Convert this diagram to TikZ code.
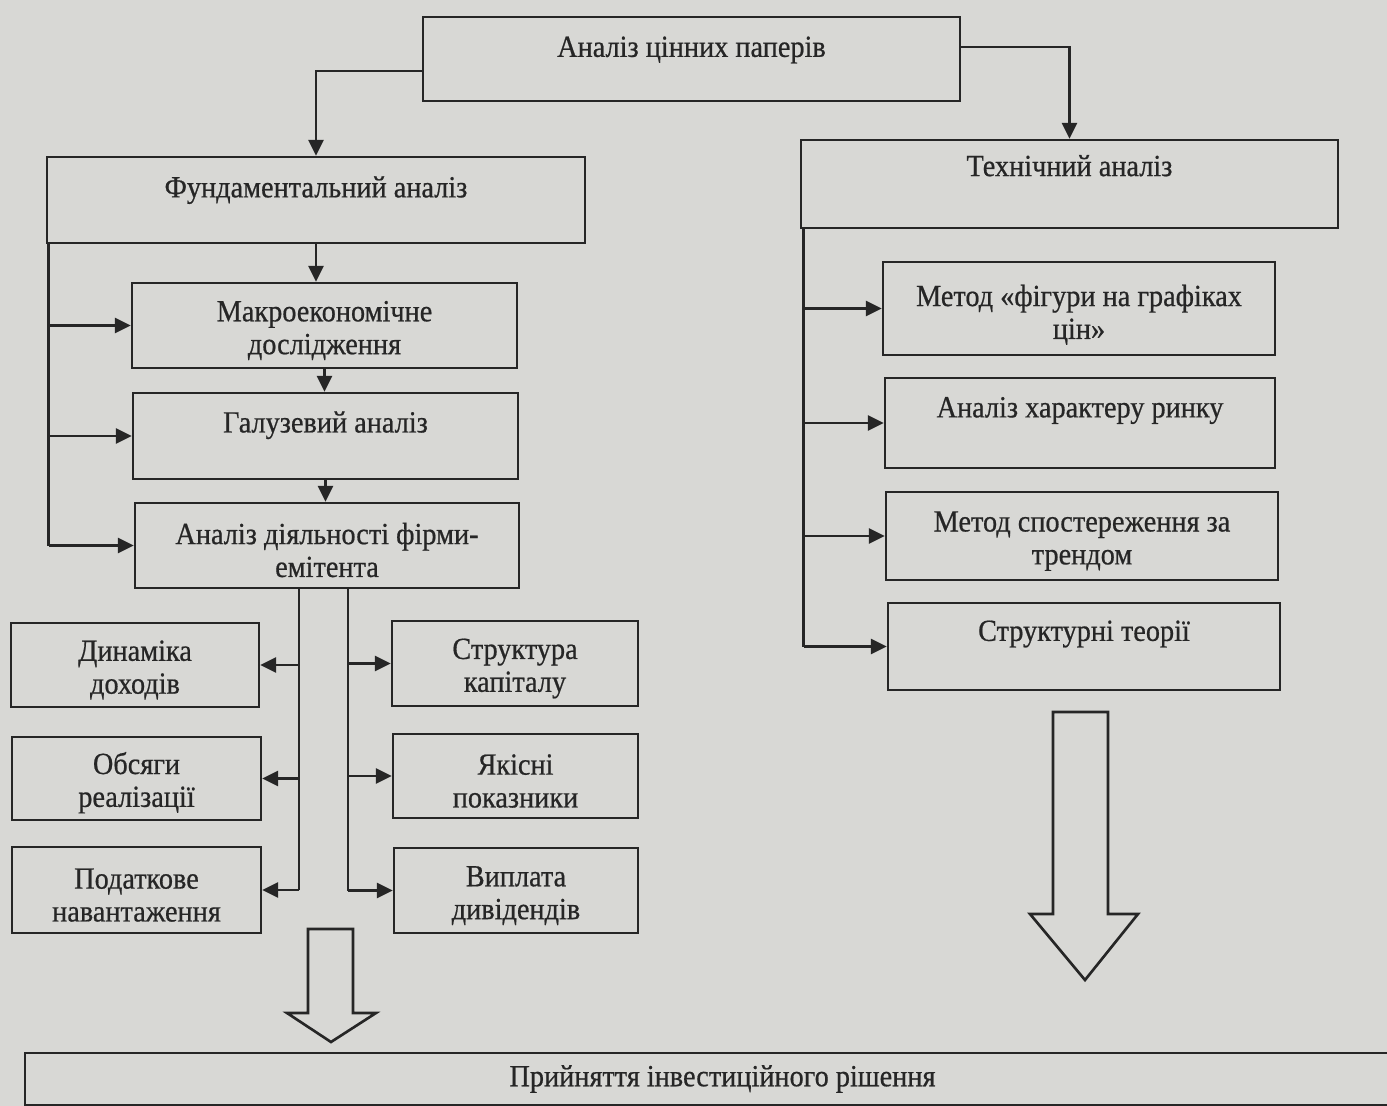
\documentclass[tikz,border=0pt]{standalone}
\usepackage{fontspec}
\setmainfont{Liberation Serif}[FakeStretch=0.92,FakeBold=0.6]
\usetikzlibrary{arrows.meta}
\usetikzlibrary{calc}

\definecolor{papir}{RGB}{216,216,213}
\definecolor{chornylo}{RGB}{38,38,38}

\begin{document}
\begin{tikzpicture}[x=0.02cm,y=-0.02cm,
	blok/.style={draw=chornylo, line width=1.5pt, align=center, inner sep=2pt, text=chornylo, font=\fontsize{17.5}{18.7}\selectfont},
	vgoru/.style={text depth=#1},
	vnyz/.style={text height=#1},
	strilka/.style={draw=chornylo, line width=1.5pt, -{Triangle[length=9pt,width=8.5pt]}},
	liniya/.style={draw=chornylo, line width=1.5pt},
	porozhnya/.style={draw=chornylo, line width=1.5pt, line join=miter}]

	\useasboundingbox[fill=papir] (0,0) rectangle (1387,1106);

	\node[blok, vgoru=14pt, minimum width=10.74cm, minimum height=1.68cm] (papery) at (691.5,59) {Аналіз цінних паперів};
	\node[blok, vgoru=15pt, minimum width=10.76cm, minimum height=1.72cm] (fund) at (316,200) {Фундаментальний аналіз};
	\node[blok, vgoru=21pt, minimum width=10.74cm, minimum height=1.76cm] (tekhn) at (1069.5,184) {Технічний аналіз};

	% fundamentalnyi
	\node[blok, vnyz=36pt, minimum width=7.7cm, minimum height=1.7cm] (makro) at (324.5,325.5) {Макроекономічне\\дослідження};
	\node[blok, vgoru=16pt, minimum width=7.7cm, minimum height=1.72cm] (galuz) at (325.5,436) {Галузевий аналіз};
	\node[blok, vnyz=36pt, minimum width=7.68cm, minimum height=1.7cm] (firma) at (327,545.5) {Аналіз діяльності фірми-\\емітента};

	\node[blok, vnyz=36pt, minimum width=4.96cm, minimum height=1.68cm] (dokhody) at (135,665) {Динаміка\\доходів};
	\node[blok, vnyz=36pt, minimum width=4.98cm, minimum height=1.66cm] (obsyagy) at (136.5,778.5) {Обсяги\\реалізації};
	\node[blok, vnyz=36pt, minimum width=4.98cm, minimum height=1.72cm] (podatok) at (136.5,890) {Податкове\\навантаження};

	\node[blok, vnyz=36pt, minimum width=4.92cm, minimum height=1.7cm] (kapital) at (515,663.5) {Структура\\капіталу};
	\node[blok, vnyz=36pt, minimum width=4.9cm, minimum height=1.68cm] (yakist) at (515.5,776) {Якісні\\показники};
	\node[blok, vnyz=36pt, minimum width=4.88cm, minimum height=1.7cm] (dyvidendy) at (516,890.5) {Виплата\\дивідендів};

	% tekhnichnyi
	\node[blok, vnyz=38pt, minimum width=7.84cm, minimum height=1.86cm] (figury) at (1079,308.5) {Метод «фігури на графіках\\цін»};
	\node[blok, vgoru=18pt, minimum width=7.8cm, minimum height=1.8cm] (kharakter) at (1080,423) {Аналіз характеру ринку};
	\node[blok, vnyz=36pt, minimum width=7.84cm, minimum height=1.76cm] (trend) at (1082,536) {Метод спостереження за\\трендом};
	\node[blok, vgoru=18pt, minimum width=7.84cm, minimum height=1.74cm] (teorii) at (1084,646.5) {Структурні теорії};

	\node[blok, minimum width=27.9cm, minimum height=1.04cm] (rishennya) at (722.5,1079) {Прийняття інвестиційного рішення};

	\draw[strilka] ($(papery.west)+(0,12)$) -| (fund.north);
	\draw[strilka] ($(papery.east)+(0,-12)$) -| (tekhn.north);

	\draw[strilka] (fund.south) -- (fund.south |- makro.north);
	\draw[strilka] (makro.south) -- (makro.south |- galuz.north);
	\draw[strilka] (galuz.south) -- (galuz.south |- firma.north);

	\coordinate (lshyna) at ($(fund.south west)+(3,0)$);
	\draw[liniya] (lshyna) -- (lshyna |- firma.west);
	\foreach \n in {makro,galuz,firma}
		\draw[strilka] (lshyna |- \n.west) -- (\n.west);

	\coordinate (shyna1) at ($(firma.south)+(-28,0)$);
	\coordinate (shyna2) at ($(firma.south)+(21,0)$);
	\draw[liniya] (shyna1) -- (shyna1 |- podatok.east);
	\draw[liniya] (shyna2) -- (shyna2 |- dyvidendy.west);
	\foreach \n in {dokhody,obsyagy,podatok}
		\draw[strilka] (shyna1 |- \n.east) -- (\n.east);
	\foreach \n in {kapital,yakist,dyvidendy}
		\draw[strilka] (shyna2 |- \n.west) -- (\n.west);

	\coordinate (tshyna) at ($(tekhn.south west)+(4,0)$);
	\draw[liniya] (tshyna) -- (tshyna |- teorii.west);
	\foreach \n in {figury,kharakter,trend,teorii}
		\draw[strilka] (tshyna |- \n.west) -- (\n.west);

	% porozhni strilky
	\draw[porozhnya] (308,929) -- (308,1013) -- (287,1013) -- (331,1042) -- (376,1013) -- (353,1013) -- (353,929) -- cycle;
	\draw[porozhnya] (1053,712) -- (1053,914) -- (1030,914) -- (1085,980) -- (1138,914) -- (1108,914) -- (1108,712) -- cycle;

\end{tikzpicture}
\end{document}
